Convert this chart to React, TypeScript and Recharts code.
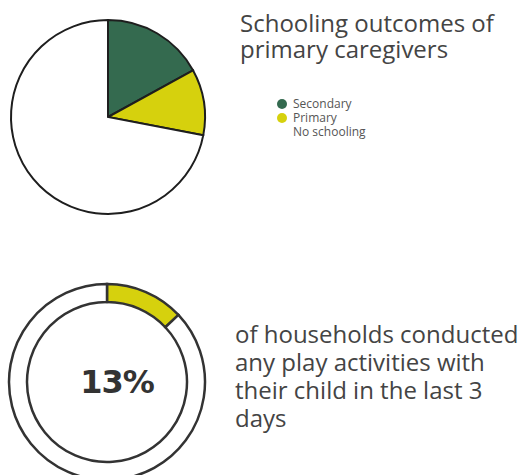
import { PieChart, Pie, Cell } from 'recharts'

const schoolingLabels = ['Secondary', 'Primary', 'No schooling']
const schoolingValues = [17, 11, 72]
const schoolingColors = ['#346a4f', '#d6d10d', '#ffffff']

const playLabels = ['Conducted play', 'Other']
const playValues = [13, 87]
const playColors = ['#d6d10d', '#ffffff']

const titleLines = ['Schooling outcomes of', 'primary caregivers']
const playLines = ['of households conducted', 'any play activities with', 'their child in the last 3', 'days']

const schoolingData = schoolingLabels.map((name, i) => ({ name, value: schoolingValues[i] }))
const playData = playLabels.map((name, i) => ({ name, value: playValues[i] }))

const textFont = '"Open Sans", "Noto Sans", sans-serif'

export default function App() {
  return (
    <div style={{ position: 'absolute', left: 0, top: 0, width: 521, height: 475, background: '#fff', overflow: 'hidden' }}>
      <PieChart width={521} height={475} margin={{ top: 0, right: 0, bottom: 0, left: 0 }}>
        <Pie
          data={schoolingData}
          dataKey="value"
          cx={108}
          cy={117}
          outerRadius={97}
          startAngle={90}
          endAngle={-270}
          stroke="#1e1e1e"
          strokeWidth={2}
          isAnimationActive={false}
        >
          {schoolingData.map((d, i) => (
            <Cell key={d.name} fill={schoolingColors[i]} />
          ))}
        </Pie>
        <Pie
          data={playData}
          dataKey="value"
          cx={107}
          cy={382}
          innerRadius={80}
          outerRadius={98}
          startAngle={90}
          endAngle={-270}
          stroke="#333333"
          strokeWidth={2.5}
          isAnimationActive={false}
        >
          {playData.map((d, i) => (
            <Cell key={d.name} fill={playColors[i]} />
          ))}
        </Pie>
      </PieChart>

      <div style={{ position: 'absolute', left: 240, top: 10, fontFamily: textFont, fontSize: 24, lineHeight: '26px', color: '#444', whiteSpace: 'nowrap' }}>
        {titleLines.map((l) => (
          <div key={l}>{l}</div>
        ))}
      </div>

      <div style={{ position: 'absolute', left: 277, top: 97, fontFamily: textFont, fontSize: 12, lineHeight: '14px', color: '#555' }}>
        {schoolingLabels.map((l, i) => (
          <div key={l} style={{ display: 'flex', alignItems: 'center', height: 14 }}>
            <span
              style={{
                display: 'inline-block',
                width: 10,
                height: 10,
                borderRadius: 5,
                background: schoolingColors[i],
                marginRight: 6,
              }}
            />
            {l}
          </div>
        ))}
      </div>

      <div
        style={{
          position: 'absolute',
          left: 57,
          top: 362,
          width: 120,
          textAlign: 'center',
          fontFamily: '"DejaVu Sans", sans-serif',
          fontWeight: 'bold',
          fontSize: 32,
          lineHeight: '40px',
          color: '#333',
          letterSpacing: -1,
        }}
      >
        {playValues[0]}%
      </div>

      <div style={{ position: 'absolute', left: 235, top: 320, fontFamily: textFont, fontSize: 24, lineHeight: '28px', color: '#444', whiteSpace: 'nowrap' }}>
        {playLines.map((l) => (
          <div key={l}>{l}</div>
        ))}
      </div>
    </div>
  )
}
